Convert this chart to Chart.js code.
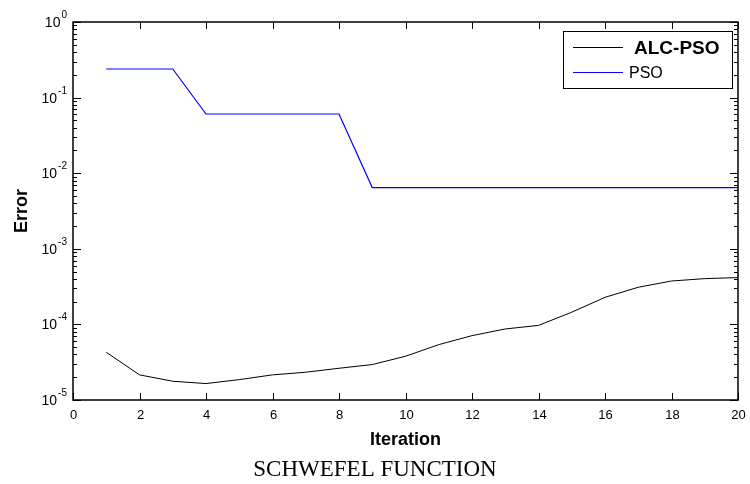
<!DOCTYPE html>
<html>
<head>
<meta charset="utf-8">
<script src="https://cdn.jsdelivr.net/npm/chart.js@4"></script>
<style>
  html, body { margin: 0; padding: 0; background: #fff; }
  #wrap { width: 750px; height: 484px; }
</style>
</head>
<body>
<div id="wrap"><canvas id="chart" width="750" height="484"></canvas></div>
<script>
const iterations = [1, 2, 3, 4, 5, 6, 7, 8, 9, 10, 11, 12, 13, 14, 15, 16, 17, 18, 19, 20];
const alcPso = [4.28e-5, 2.15e-5, 1.77e-5, 1.65e-5, 1.86e-5, 2.15e-5, 2.33e-5, 2.63e-5, 2.94e-5, 3.79e-5,
                5.4e-5, 7.1e-5, 8.7e-5, 9.7e-5, 1.45e-4, 2.28e-4, 3.1e-4, 3.75e-4, 4.03e-4, 4.16e-4];
const pso = [0.239, 0.239, 0.239, 0.0607, 0.0607, 0.0607, 0.0607, 0.0607, 0.00645, 0.00645,
             0.00645, 0.00645, 0.00645, 0.00645, 0.00645, 0.00645, 0.00645, 0.00645, 0.00645, 0.00645];
const seriesNames = ['ALC-PSO', 'PSO'];
const xTicks = [0, 2, 4, 6, 8, 10, 12, 14, 16, 18, 20];
const yExponents = [0, -1, -2, -3, -4, -5];

const sans = "'Liberation Sans', Arial, sans-serif";
const serif = "'Liberation Serif', 'Times New Roman', serif";

// axes box, inward ticks, labels, titles and legend drawn matlab style
const matlabAxes = {
  id: 'matlabAxes',
  afterDraw(chart) {
    const { ctx, chartArea: a, scales: { x, y } } = chart;
    ctx.save();
    ctx.strokeStyle = '#000';
    ctx.fillStyle = '#000';

    ctx.lineWidth = 1.5;
    ctx.strokeRect(a.left, a.top, a.right - a.left, a.bottom - a.top);

    ctx.lineWidth = 1;
    ctx.font = '13px ' + sans;
    ctx.textAlign = 'center';
    ctx.textBaseline = 'top';
    xTicks.forEach(t => {
      const px = Math.round(x.getPixelForValue(t)) + 0.5;
      ctx.beginPath();
      ctx.moveTo(px, a.bottom); ctx.lineTo(px, a.bottom - 7);
      ctx.moveTo(px, a.top); ctx.lineTo(px, a.top + 7);
      ctx.stroke();
      ctx.fillText(String(t), px, a.bottom + 9);
    });

    yExponents.forEach(e => {
      const py = Math.round(y.getPixelForValue(Math.pow(10, e))) + 0.5;
      ctx.beginPath();
      ctx.moveTo(a.left, py); ctx.lineTo(a.left + 8, py);
      ctx.moveTo(a.right, py); ctx.lineTo(a.right - 8, py);
      ctx.stroke();
      if (e < 0) {
        for (let m = 2; m <= 9; m++) {
          const my = Math.round(y.getPixelForValue(m * Math.pow(10, e))) + 0.5;
          ctx.beginPath();
          ctx.moveTo(a.left, my); ctx.lineTo(a.left + 4, my);
          ctx.moveTo(a.right, my); ctx.lineTo(a.right - 4, my);
          ctx.stroke();
        }
      }
      ctx.font = '14px ' + sans;
      const baseW = ctx.measureText('10').width;
      ctx.font = '10px ' + sans;
      const expW = ctx.measureText(String(e)).width;
      const right = 67;
      ctx.textAlign = 'left';
      ctx.textBaseline = 'middle';
      ctx.font = '14px ' + sans;
      ctx.fillText('10', right - expW - baseW - 1, py + 1);
      ctx.font = '10px ' + sans;
      ctx.fillText(String(e), right - expW, py - 7);
    });

    ctx.font = 'bold 18px ' + sans;
    ctx.textAlign = 'center';
    ctx.textBaseline = 'alphabetic';
    ctx.fillText('Iteration', (a.left + a.right) / 2, 445);

    ctx.save();
    ctx.translate(27, (a.top + a.bottom) / 2);
    ctx.rotate(-Math.PI / 2);
    ctx.fillText('Error', 0, 0);
    ctx.restore();

    ctx.font = '23px ' + serif;
    ctx.fillText('SCHWEFEL FUNCTION', 375, 476);

    // legend
    ctx.fillStyle = '#fff';
    ctx.fillRect(563, 31, 169, 57);
    ctx.lineWidth = 1;
    ctx.strokeStyle = '#000';
    ctx.strokeRect(563.5, 31.5, 169, 57);
    const rows = [47, 72];
    chart.data.datasets.forEach((ds, i) => {
      ctx.strokeStyle = ds.borderColor;
      ctx.beginPath();
      ctx.moveTo(573, rows[i] + 0.5); ctx.lineTo(623, rows[i] + 0.5);
      ctx.stroke();
      ctx.fillStyle = '#000';
      ctx.textAlign = 'left';
      ctx.textBaseline = 'middle';
      ctx.font = i === 0 ? 'bold 19px ' + sans : '16px ' + sans;
      ctx.fillText(ds.label, i === 0 ? 634 : 629, rows[i] + 2);
    });
    ctx.restore();
  }
};

new Chart(document.getElementById('chart'), {
  type: 'line',
  data: {
    datasets: [
      {
        label: seriesNames[0],
        data: iterations.map((it, i) => ({ x: it, y: alcPso[i] })),
        borderColor: '#000000',
        borderWidth: 1,
        pointRadius: 0,
        tension: 0
      },
      {
        label: seriesNames[1],
        data: iterations.map((it, i) => ({ x: it, y: pso[i] })),
        borderColor: '#0000ff',
        borderWidth: 1.2,
        pointRadius: 0,
        tension: 0
      }
    ]
  },
  options: {
    responsive: false,
    animation: false,
    layout: { padding: { left: 73, top: 22, right: 12, bottom: 84 } },
    plugins: { legend: { display: false }, title: { display: false }, tooltip: { enabled: false } },
    scales: {
      x: { type: 'linear', min: 0, max: 20, display: false },
      y: { type: 'logarithmic', min: 1e-5, max: 1, display: false }
    }
  },
  plugins: [matlabAxes]
});
</script>
</body>
</html>
